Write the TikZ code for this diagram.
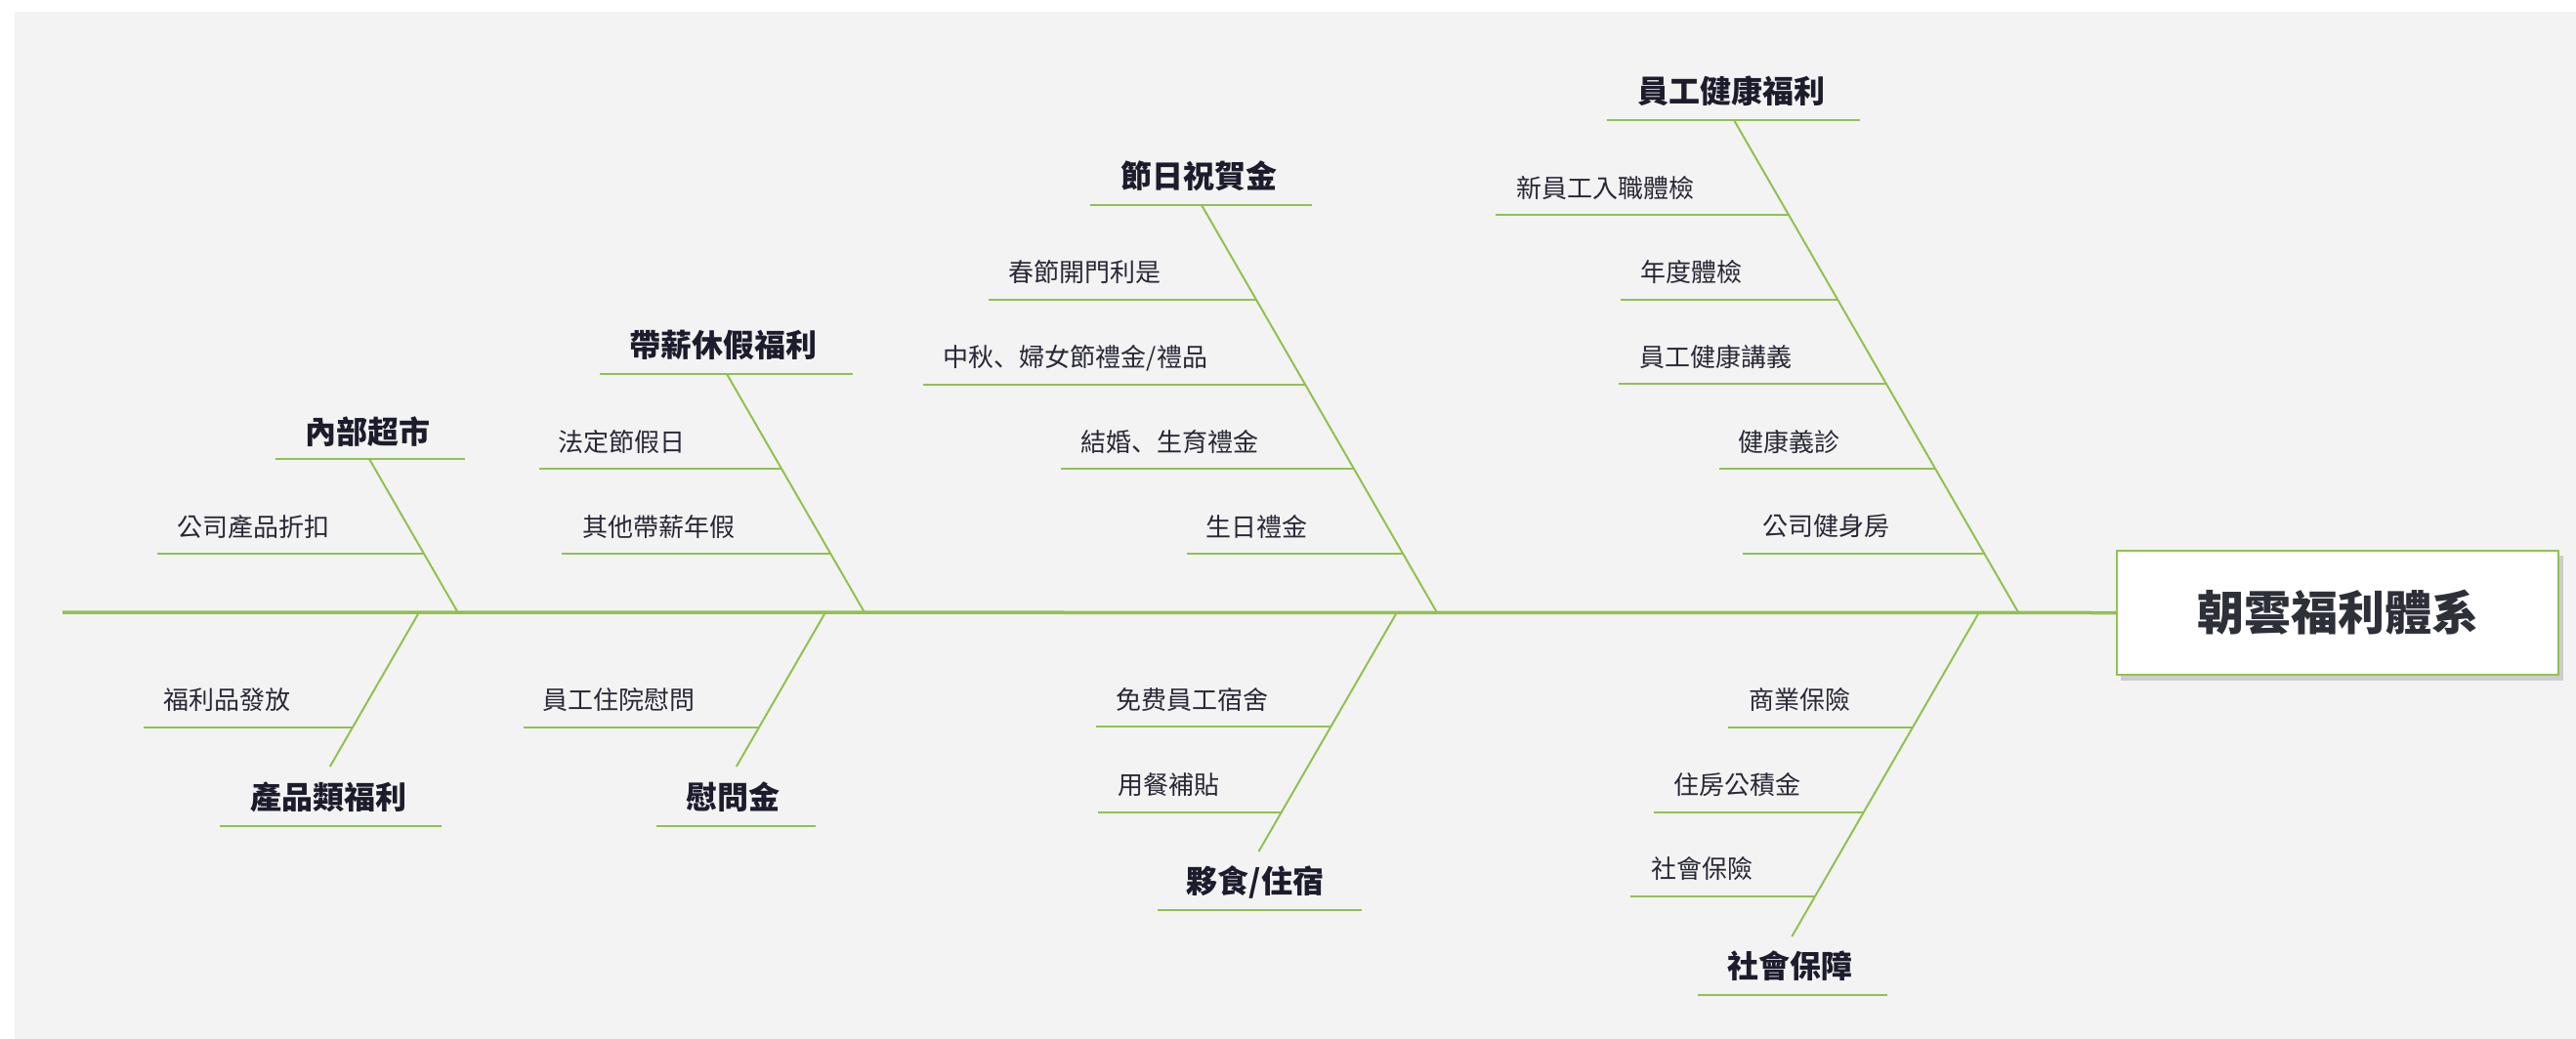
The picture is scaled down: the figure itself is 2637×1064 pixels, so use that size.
\documentclass[tikz,border=0pt]{standalone}
\usepackage{fontspec}
\setmainfont{Noto Sans CJK TC}
\newfontfamily\scfont{Noto Sans CJK SC}
\definecolor{fbgreen}{RGB}{145,193,80}
\definecolor{bggray}{RGB}{243,243,243}
\definecolor{shadowc}{RGB}{205,205,205}
\definecolor{titlec}{RGB}{28,28,45}
\definecolor{subc}{RGB}{40,40,55}
\definecolor{rootc}{RGB}{45,48,56}
\begin{document}
\begin{tikzpicture}[x=0.5pt,y=-0.5pt,
  bone/.style={draw=fbgreen,line width=1pt},
  spineline/.style={draw=fbgreen,line width=1.75pt},
  cattext/.style={font=\fontsize{16}{18}\selectfont\bfseries,text=titlec,inner sep=0pt},
  subtext/.style={font=\fontsize{13}{15}\selectfont,text=subc,inner sep=0pt},
  rootbox/.style={draw=fbgreen,line width=1pt,fill=white,minimum width=226pt,minimum height=63.5pt,
    font=\fontsize{24}{28}\selectfont\bfseries,text=rootc}]
\useasboundingbox (0,0) rectangle (2637,1064);
\fill[white] (0,0) rectangle (2637,1064);
\fill[bggray] (15,12) rectangle (2637,1064);

% root
\fill[shadowc] (2171,569) rectangle (2624,697);
\node[rootbox] (root) at (2393,627.5) {朝雲福利體系};
\coordinate (tail) at (64,627);
\draw[spineline] (tail) -- (root.west);

% ---------- branch 1: 內部超市
\node[cattext] (c1) at (376,442) {內部超市};
\coordinate (c1ul) at (282,470); \coordinate (c1ur) at (476,470);
\coordinate (c1t) at (378,470); \coordinate (c1b) at (468.6,627);
\draw[bone] (c1ul) -- (c1ur);
\draw[bone] (c1t) -- (c1b);
\node[subtext] (s11) at (259,540) {公司產品折扣};
\coordinate (s11a) at (161,567); \coordinate (s11b) at (434,567);
\draw[bone] (s11a) -- (s11b);

% ---------- branch 2: 帶薪休假福利
\node[cattext] (c2) at (740,353) {帶薪休假福利};
\coordinate (c2ul) at (614,383); \coordinate (c2ur) at (873,383);
\coordinate (c2t) at (744,383); \coordinate (c2b) at (884.9,627);
\draw[bone] (c2ul) -- (c2ur);
\draw[bone] (c2t) -- (c2b);
\node[subtext] (s21) at (636,453) {法定節假日};
\coordinate (s21a) at (552,480); \coordinate (s21b) at (800,480);
\draw[bone] (s21a) -- (s21b);
\node[subtext] (s22) at (674,540) {其他帶薪年假};
\coordinate (s22a) at (575,567); \coordinate (s22b) at (850.2,567);
\draw[bone] (s22a) -- (s22b);

% ---------- branch 3: 節日祝賀金
\node[cattext] (c3) at (1227,180) {節日祝賀金};
\coordinate (c3ul) at (1116,210); \coordinate (c3ur) at (1343,210);
\coordinate (c3t) at (1230,210); \coordinate (c3b) at (1470.8,627);
\draw[bone] (c3ul) -- (c3ur);
\draw[bone] (c3t) -- (c3b);
\node[subtext] (s31) at (1110,279) {春節開門利是};
\coordinate (s31a) at (1012,307); \coordinate (s31b) at (1286,307);
\draw[bone] (s31a) -- (s31b);
\node[subtext] (s32) at (1101,367) {中秋{\scfont 、}婦女節禮金/禮品};
\coordinate (s32a) at (945,394); \coordinate (s32b) at (1336.2,394);
\draw[bone] (s32a) -- (s32b);
\node[subtext] (s33) at (1197,453) {結婚{\scfont 、}生育禮金};
\coordinate (s33a) at (1086,480); \coordinate (s33b) at (1385.9,480);
\draw[bone] (s33a) -- (s33b);
\node[subtext] (s34) at (1286,539) {生日禮金};
\coordinate (s34a) at (1215,567); \coordinate (s34b) at (1436.1,567);
\draw[bone] (s34a) -- (s34b);

% ---------- branch 4: 員工健康福利
\node[cattext] (c4) at (1772,93) {員工健康福利};
\coordinate (c4ul) at (1645,123); \coordinate (c4ur) at (1904,123);
\coordinate (c4t) at (1775,123); \coordinate (c4b) at (2066,627);
\draw[bone] (c4ul) -- (c4ur);
\draw[bone] (c4t) -- (c4b);
\node[subtext] (s41) at (1643,193) {新員工入職體檢};
\coordinate (s41a) at (1531,220); \coordinate (s41b) at (1831,220);
\draw[bone] (s41a) -- (s41b);
\node[subtext] (s42) at (1731,279) {年度體檢};
\coordinate (s42a) at (1659,307); \coordinate (s42b) at (1881.2,307);
\draw[bone] (s42a) -- (s42b);
\node[subtext] (s43) at (1756,366) {員工健康講義};
\coordinate (s43a) at (1657,393); \coordinate (s43b) at (1930.9,393);
\draw[bone] (s43a) -- (s43b);
\node[subtext] (s44) at (1831,452) {健康義診};
\coordinate (s44a) at (1760,480); \coordinate (s44b) at (1981.1,480);
\draw[bone] (s44a) -- (s44b);
\node[subtext] (s45) at (1869,539) {公司健身房};
\coordinate (s45a) at (1784,567); \coordinate (s45b) at (2031.4,567);
\draw[bone] (s45a) -- (s45b);

% ---------- branch 5: 產品類福利
\node[cattext] (c5) at (336,816) {產品類福利};
\coordinate (c5ul) at (225,846); \coordinate (c5ur) at (452,846);
\coordinate (c5t) at (429,627); \coordinate (c5b) at (337.8,785);
\draw[bone] (c5ul) -- (c5ur);
\draw[bone] (c5t) -- (c5b);
\node[subtext] (s51) at (232,717) {福利品發放};
\coordinate (s51a) at (147,745); \coordinate (s51b) at (360.9,745);
\draw[bone] (s51a) -- (s51b);

% ---------- branch 6: 慰問金
\node[cattext] (c6) at (750,816) {慰問金};
\coordinate (c6ul) at (672,846); \coordinate (c6ur) at (835,846);
\coordinate (c6t) at (845,627); \coordinate (c6b) at (753.8,785);
\draw[bone] (c6ul) -- (c6ur);
\draw[bone] (c6t) -- (c6b);
\node[subtext] (s61) at (633,717) {員工住院慰問};
\coordinate (s61a) at (536,745); \coordinate (s61b) at (776.9,745);
\draw[bone] (s61a) -- (s61b);

% ---------- branch 7: 夥食/住宿
\node[cattext] (c7) at (1285,903) {夥食/住宿};
\coordinate (c7ul) at (1185,932); \coordinate (c7ur) at (1394,932);
\coordinate (c7t) at (1430,627); \coordinate (c7b) at (1288.5,872);
\draw[bone] (c7ul) -- (c7ur);
\draw[bone] (c7t) -- (c7b);
\node[subtext] (s71) at (1220,717) {免费員工宿舍};
\coordinate (s71a) at (1122,744); \coordinate (s71b) at (1362.4,744);
\draw[bone] (s71a) -- (s71b);
\node[subtext] (s72) at (1196,804) {用餐補貼};
\coordinate (s72a) at (1124,832); \coordinate (s72b) at (1311.6,832);
\draw[bone] (s72a) -- (s72b);

% ---------- branch 8: 社會保障
\node[cattext] (c8) at (1832,989) {社會保障};
\coordinate (c8ul) at (1738,1019); \coordinate (c8ur) at (1932,1019);
\coordinate (c8t) at (2026,627); \coordinate (c8b) at (1834.3,959);
\draw[bone] (c8ul) -- (c8ur);
\draw[bone] (c8t) -- (c8b);
\node[subtext] (s81) at (1842,717) {商業保險};
\coordinate (s81a) at (1769,745); \coordinate (s81b) at (1957.9,745);
\draw[bone] (s81a) -- (s81b);
\node[subtext] (s82) at (1778,804) {住房公積金};
\coordinate (s82a) at (1693,832); \coordinate (s82b) at (1907.6,832);
\draw[bone] (s82a) -- (s82b);
\node[subtext] (s83) at (1742,890) {社會保險};
\coordinate (s83a) at (1669,918); \coordinate (s83b) at (1857.8,918);
\draw[bone] (s83a) -- (s83b);
\end{tikzpicture}
\end{document}
